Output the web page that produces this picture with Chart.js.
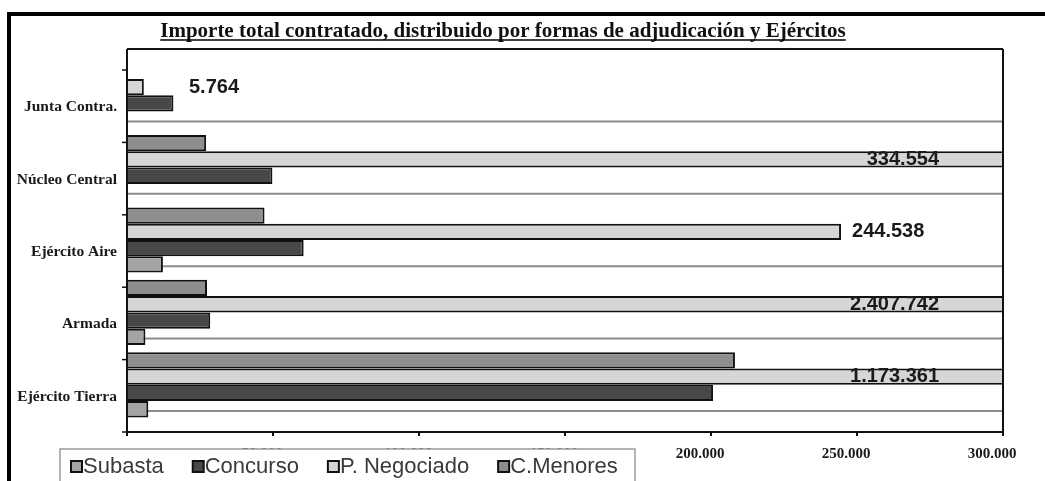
<!DOCTYPE html>
<html>
<head>
<meta charset="utf-8">
<script src="https://cdn.jsdelivr.net/npm/chart.js@4.4.1/dist/chart.umd.min.js"></script>
<style>
  html, body { margin: 0; padding: 0; background: #fff; }
  #wrap { width: 1045px; height: 481px; position: relative; }
</style>
</head>
<body>
<div id="wrap"><canvas id="c"></canvas></div>
<script>
// data
const categories = ['Junta Contra.', 'Núcleo Central', 'Ejército Aire', 'Armada', 'Ejército Tierra'];
const subasta    = [0, 0, 12300, 6300, 7300];
const concurso   = [15900, 49800, 60500, 28500, 200700];
const negociado  = [5764, 334554, 244538, 2407742, 1173361];
const menores    = [0, 27100, 47100, 27400, 208200];
const xTicks     = [0, 50000, 100000, 150000, 200000, 250000, 300000];
const titleText  = 'Importe total contratado, distribuido por formas de adjudicación y Ejércitos';

const SERIF = '"Liberation Serif", "Times New Roman", serif';
const SANS = '"Liberation Sans", Arial, sans-serif';

function fmt(v) {
    return String(v).replace(/\B(?=(\d{3})+(?!\d))/g, '.');
}

// bars top-to-bottom inside each group; legend is the other way round
const series = [
    { label: 'C.Menores',    data: menores,   color: '#8e8e8e' },
    { label: 'P. Negociado', data: negociado, color: '#d6d6d6' },
    { label: 'Concurso',     data: concurso,  color: '#484848' },
    { label: 'Subasta',      data: subasta,   color: '#a4a4a4' }
];
const legendOrder = ['Subasta', 'Concurso', 'P. Negociado', 'C.Menores'];

// plot wall behind the bars is shifted up, axes in front shifted down (excel 3d look)
const BACK = -10, FRONT = 11;

function line(ctx, x1, y1, x2, y2) {
    ctx.beginPath();
    ctx.moveTo(x1, y1);
    ctx.lineTo(x2, y2);
    ctx.stroke();
}

const framePlugin = {
    id: 'frame',
    beforeDatasetsDraw(chart) {
        const { ctx, chartArea: a, scales: { y } } = chart;
        const half = (y.getPixelForValue(1) - y.getPixelForValue(0)) / 2;
        ctx.save();
        ctx.strokeStyle = '#8c8c8c';
        ctx.lineWidth = 2;
        categories.forEach((c, i) => {
            const yy = y.getPixelForValue(i) + half + BACK;
            line(ctx, a.left, yy, a.right, yy);
        });
        ctx.strokeStyle = '#111';
        line(ctx, a.left, a.top + BACK, a.right, a.top + BACK);
        ctx.restore();
    },
    afterDatasetsDraw(chart) {
        const { ctx, chartArea: a, scales: { x, y } } = chart;
        const half = (y.getPixelForValue(1) - y.getPixelForValue(0)) / 2;
        ctx.save();
        ctx.strokeStyle = '#111';
        ctx.lineWidth = 2;
        // right wall edge
        line(ctx, a.right, a.top + BACK, a.right, a.bottom + FRONT);
        // axes
        line(ctx, a.left, a.bottom + FRONT, a.right, a.bottom + FRONT);
        line(ctx, a.left, a.top + BACK, a.left, a.bottom + FRONT);
        xTicks.forEach(v => {
            const px = x.getPixelForValue(v);
            line(ctx, px, a.bottom + FRONT, px, a.bottom + FRONT + 4);
        });
        ctx.lineWidth = 1.5;
        line(ctx, a.left - 5, y.getPixelForValue(0) - half + FRONT, a.left, y.getPixelForValue(0) - half + FRONT);
        categories.forEach((c, i) => {
            const yy = y.getPixelForValue(i) + half + FRONT;
            line(ctx, a.left - 5, yy, a.left, yy);
        });

        // value labels of P. Negociado
        const di = series.findIndex(s => s.label === 'P. Negociado');
        const meta = chart.getDatasetMeta(di);
        ctx.fillStyle = '#1a1a1a';
        ctx.font = 'bold 20px ' + SANS;
        ctx.textBaseline = 'middle';
        meta.data.forEach((bar, i) => {
            const v = negociado[i];
            if (v > x.max) {
                ctx.textAlign = 'right';
                ctx.fillText(fmt(v), a.right - 64, bar.y);
            } else {
                ctx.textAlign = 'left';
                ctx.fillText(fmt(v), Math.max(bar.x + 11, a.left + 62), bar.y);
            }
        });
        ctx.restore();
    },
    afterDraw(chart) {
        const { ctx } = chart;
        ctx.save();
        // outer frame of the scanned page
        ctx.strokeStyle = '#000';
        ctx.lineWidth = 4;
        line(ctx, 8, 14, 1045, 14);
        ctx.lineWidth = 4;
        line(ctx, 9, 12, 9, 481);

        // title, underlined
        ctx.font = 'bold 21px ' + SERIF;
        ctx.fillStyle = '#111';
        ctx.textAlign = 'center';
        ctx.textBaseline = 'alphabetic';
        const tx = 503, ty = 37;
        ctx.fillText(titleText, tx, ty);
        const tw = ctx.measureText(titleText).width;
        ctx.lineWidth = 1.5;
        line(ctx, tx - tw / 2, ty + 3, tx + tw / 2, ty + 3);

        // legend box
        ctx.fillStyle = '#fff';
        ctx.fillRect(60, 449, 575, 40);
        ctx.strokeStyle = '#9a9a9a';
        ctx.lineWidth = 1.5;
        ctx.strokeRect(60, 449, 575, 40);
        ctx.font = '22px ' + SANS;
        ctx.textAlign = 'left';
        ctx.textBaseline = 'middle';
        let lx = 71;
        const ly = 467;
        legendOrder.forEach(name => {
            const s = series.find(d => d.label === name);
            ctx.fillStyle = s.color;
            ctx.fillRect(lx, ly - 6, 11, 11);
            ctx.strokeStyle = '#111';
            ctx.lineWidth = 2;
            ctx.strokeRect(lx, ly - 6, 11, 11);
            ctx.fillStyle = '#3a3a3a';
            ctx.fillText(name, lx + 12, ly);
            lx += 12 + ctx.measureText(name).width + 29;
        });
        ctx.restore();
    }
};

new Chart(document.getElementById('c'), {
    type: 'bar',
    data: {
        labels: categories,
        datasets: series.map(s => ({
            label: s.label,
            data: s.data,
            backgroundColor: s.color,
            borderColor: '#111',
            borderWidth: 2,
            borderSkipped: 'start',
            categoryPercentage: 0.9,
            barPercentage: 1
        }))
    },
    options: {
        indexAxis: 'y',
        responsive: true,
        maintainAspectRatio: false,
        animation: false,
        layout: { padding: { left: 17, right: 42, top: 59, bottom: 0 } },
        plugins: {
            legend: { display: false },
            tooltip: { enabled: false }
        },
        scales: {
            x: {
                min: 0,
                max: 300000,
                afterFit: s => { s.height = 60; s.paddingLeft = 0; s.paddingRight = 0; },
                afterBuildTicks: s => { s.ticks = xTicks.map(v => ({ value: v })); },
                grid: { display: false, drawTicks: false },
                border: { display: false },
                ticks: {
                    padding: 24,
                    labelOffset: -11,
                    color: '#1a1a1a',
                    font: { family: SERIF, size: 15, weight: 'bold' },
                    callback: v => v === 0 ? '' : fmt(v)
                }
            },
            y: {
                afterFit: s => { s.width = 110; s.paddingTop = 0; s.paddingBottom = 0; },
                grid: { display: false, drawTicks: false },
                border: { display: false },
                ticks: {
                    padding: 10,
                    labelOffset: 12,
                    color: '#1a1a1a',
                    font: { family: SERIF, size: 15.5, weight: 'bold' }
                }
            }
        }
    },
    plugins: [framePlugin]
});
</script>
</body>
</html>
